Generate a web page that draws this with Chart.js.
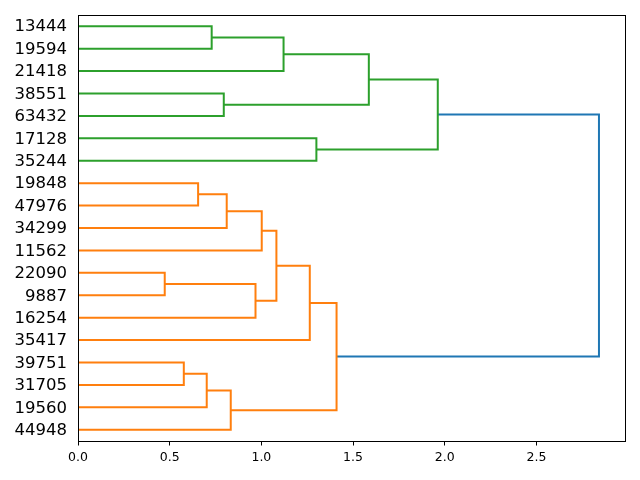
<!DOCTYPE html>
<html>
<head>
<meta charset="utf-8">
<script src="https://cdn.jsdelivr.net/npm/chart.js@4.4.0/dist/chart.umd.min.js"></script>
<style>
  html, body { margin: 0; padding: 0; background: #fff; }
  #wrap { width: 640px; height: 480px; }
</style>
</head>
<body>
<div id="wrap"><canvas id="chart" width="640" height="480"></canvas></div>
<script>
// leaves, top to bottom, at positions 5, 15, 25 ...
const leafLabels = ["13444", "19594", "21418", "38551", "63432", "17128", "35244",
  "19848", "47976", "34299", "11562", "22090", "9887", "16254", "35417",
  "39751", "31705", "19560", "44948"];
const leafPos = leafLabels.map((_, i) => 5 + 10 * i);

// links in scipy style: icoord (leaf axis) and dcoord (distance)
const icoord = [
  [5, 5, 15, 15],
  [10, 10, 25, 25],
  [35, 35, 45, 45],
  [17.5, 17.5, 40, 40],
  [55, 55, 65, 65],
  [28.75, 28.75, 60, 60],
  [75, 75, 85, 85],
  [80, 80, 95, 95],
  [87.5, 87.5, 105, 105],
  [115, 115, 125, 125],
  [120, 120, 135, 135],
  [96.25, 96.25, 127.5, 127.5],
  [111.875, 111.875, 145, 145],
  [155, 155, 165, 165],
  [160, 160, 175, 175],
  [167.5, 167.5, 185, 185],
  [128.4375, 128.4375, 176.25, 176.25],
  [44.375, 44.375, 152.34375, 152.34375]
];
const dcoord = [
  [0, 0.729, 0.729, 0],
  [0.729, 1.121, 1.121, 0],
  [0, 0.795, 0.795, 0],
  [1.121, 1.586, 1.586, 0.795],
  [0, 1.30, 1.30, 0],
  [1.586, 1.962, 1.962, 1.30],
  [0, 0.655, 0.655, 0],
  [0.655, 0.811, 0.811, 0],
  [0.811, 1.002, 1.002, 0],
  [0, 0.473, 0.473, 0],
  [0.473, 0.968, 0.968, 0],
  [1.002, 1.082, 1.082, 0.968],
  [1.082, 1.264, 1.264, 0],
  [0, 0.577, 0.577, 0],
  [0.577, 0.702, 0.702, 0],
  [0.702, 0.833, 0.833, 0],
  [1.264, 1.41, 1.41, 0.833],
  [1.962, 2.841, 2.841, 1.41]
];
const linkColors = ["C2", "C2", "C2", "C2", "C2", "C2",
  "C1", "C1", "C1", "C1", "C1", "C1", "C1", "C1", "C1", "C1", "C1", "C0"];
const palette = { C0: "#1f77b4", C1: "#ff7f0e", C2: "#2ca02c" };

const xTicks = [0, 0.5, 1.0, 1.5, 2.0, 2.5];

const datasets = icoord.map((ic, k) => ({
  data: ic.map((y, j) => ({ x: dcoord[k][j], y: y })),
  showLine: true,
  borderColor: palette[linkColors[k]],
  borderWidth: 2,
  pointRadius: 0,
  tension: 0,
  fill: false
}));

// black box round the plot area
const frame = {
  id: "frame",
  afterDraw(chart) {
    const { ctx, chartArea: a } = chart;
    ctx.save();
    ctx.strokeStyle = "#000";
    ctx.lineWidth = 1;
    ctx.strokeRect(Math.round(a.left) + 0.5, Math.round(a.top) + 0.5,
      Math.round(a.right - a.left), Math.round(a.bottom - a.top));
    ctx.restore();
  }
};

new Chart(document.getElementById("chart"), {
  type: "scatter",
  data: { datasets },
  plugins: [frame],
  options: {
    responsive: false,
    animation: false,
    layout: { padding: { left: 0, right: 15, top: 15, bottom: 0 } },
    plugins: { legend: { display: false }, tooltip: { enabled: false } },
    scales: {
      x: {
        type: "linear",
        min: 0,
        max: 2.983,
        afterBuildTicks: (s) => { s.ticks = xTicks.map(v => ({ value: v })); },
        afterFit: (s) => { s.height = 39; s.paddingLeft = 0; s.paddingRight = 0; },
        ticks: {
          color: "#000",
          font: { family: "DejaVu Sans", size: 12.5 },
          padding: 5,
          maxRotation: 0,
          callback: (v) => Number(v).toFixed(1)
        },
        grid: { drawOnChartArea: false, drawTicks: true, tickLength: 4.5, color: "#000" },
        border: { display: false }
      },
      y: {
        type: "linear",
        reverse: true,
        min: 0,
        max: 190,
        afterBuildTicks: (s) => { s.ticks = leafPos.map(v => ({ value: v })); },
        afterFit: (s) => { s.width = 78; s.paddingTop = 0; s.paddingBottom = 0; },
        ticks: {
          color: "#000",
          font: { family: "DejaVu Sans", size: 16.5 },
          padding: 11,
          labelOffset: 1,
          autoSkip: false,
          callback: (v, i) => leafLabels[i]
        },
        grid: { drawOnChartArea: false, drawTicks: false, color: "#000" },
        border: { display: false }
      }
    }
  }
});
</script>
</body>
</html>
